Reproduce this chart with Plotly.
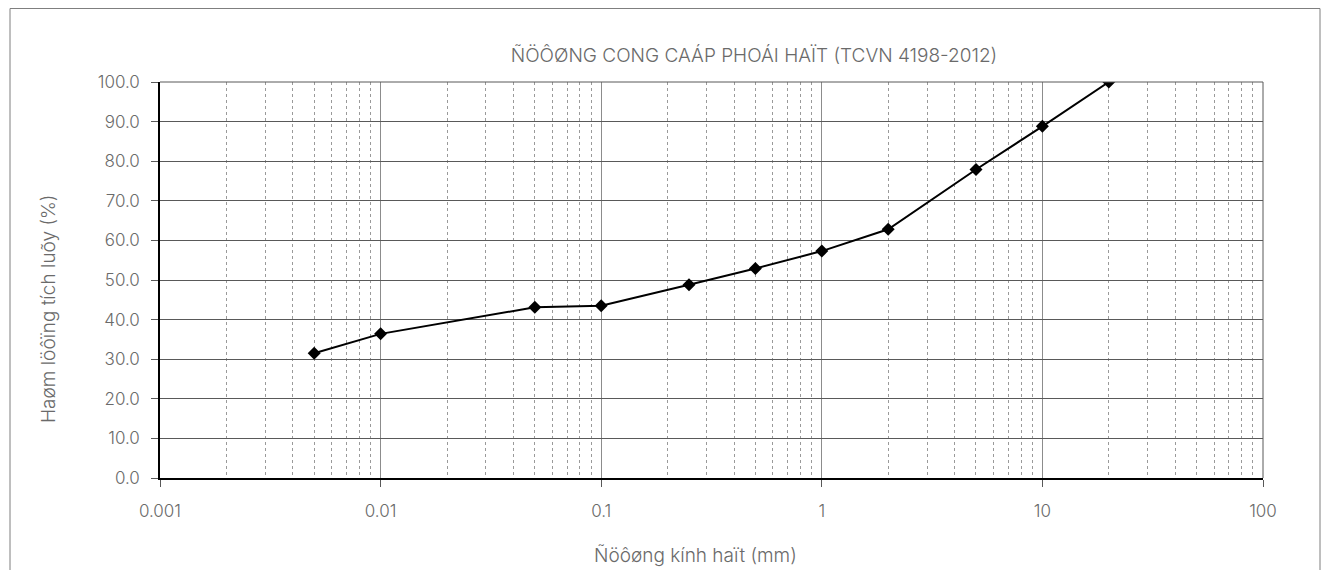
import plotly.graph_objects as go

sizes_mm = [0.005, 0.01, 0.05, 0.1, 0.25, 0.5, 1, 2, 5, 10, 20]
passing_pct = [31.5, 36.4, 43.1, 43.5, 48.8, 52.9, 57.3, 62.8, 77.9, 88.8, 100.0]
x_tick_vals = [0.001, 0.01, 0.1, 1, 10, 100]
x_tick_text = ["0.001", "0.01", "0.1", "1", "10", "100"]
minor_steps = [2, 3, 4, 5, 6, 7, 8, 9]
title_text = "ÑÖÔØNG CONG CAÁP PHOÁI HAÏT (TCVN 4198-2012)"
x_title = "Ñöôøng kính haït (mm)"
y_title = "Haøm löôïng tích luõy (%)"

minor_vals = [d * s for d in x_tick_vals[:-1] for s in minor_steps]

FONT = "Inter, Open Sans, DejaVu Sans, sans-serif"
TXT = "#6a6a6a"
WT = 300

fig = go.Figure()
fig.add_trace(go.Scatter(
    x=sizes_mm, y=passing_pct, mode="lines+markers",
    line=dict(color="black", width=2),
    marker=dict(symbol="diamond", size=10, color="black"),
    showlegend=False,
))

# page has an 8px body margin; reference coordinates shifted accordingly
W, H = 1313, 562
L, T = 152, 74
R = W - 1255
B = H - 470
pw, ph = W - L - R, H - T - B

fig.update_layout(
    width=W, height=H,
    margin=dict(l=L, r=R, t=T, b=B),
    paper_bgcolor="white", plot_bgcolor="white",
    font=dict(family=FONT, color=TXT, size=16, weight=WT),
    title=dict(text=title_text, x=746 / W, xanchor="center",
               y=1 - 47 / H, yanchor="middle",
               font=dict(size=19, color=TXT, family=FONT, weight=WT)),
    xaxis=dict(
        type="log", range=[-3, 2],
        tickvals=x_tick_vals, ticktext=x_tick_text,
        showgrid=True, gridcolor="#8c8c8c", gridwidth=1,
        minor=dict(tickmode="array", tickvals=minor_vals, showgrid=True,
                   gridcolor="#9a9a9a", griddash="dot", gridwidth=1, ticks=""),
        ticks="outside", ticklen=7, tickcolor="#595959",
        ticklabelstandoff=10,
        showline=True, linecolor="black", linewidth=1.5, mirror=False,
        tickfont=dict(size=17, color=TXT, family=FONT, weight=WT),
        zeroline=False,
    ),
    yaxis=dict(
        range=[0, 100], dtick=10, tickformat=".1f",
        showgrid=True, gridcolor="#595959", gridwidth=1,
        ticks="outside", ticklen=7, tickcolor="#595959",
        ticklabelstandoff=8,
        showline=True, linecolor="black", linewidth=1.5,
        tickfont=dict(size=17, color=TXT, family=FONT, weight=WT),
        zeroline=False,
    ),
)

# axis titles placed as in the reference
fig.add_annotation(text=x_title, xref="paper", yref="paper",
                   x=(687 - L) / pw, y=-(547 - (T + ph)) / ph,
                   xanchor="center", yanchor="middle", showarrow=False,
                   font=dict(size=19, color=TXT, family=FONT, weight=WT))
fig.add_annotation(text=y_title, xref="paper", yref="paper",
                   x=(40 - L) / pw, y=1 - (301 - T) / ph, textangle=-90,
                   xanchor="center", yanchor="middle", showarrow=False,
                   font=dict(size=19, color=TXT, family=FONT, weight=WT))

fig.add_shape(type="line", xref="paper", yref="paper", x0=1, x1=1, y0=0, y1=1,
              line=dict(color="#595959", width=1))
fig.add_shape(type="line", xref="paper", yref="paper", x0=0, x1=1, y0=1, y1=1,
              line=dict(color="#595959", width=1))

# outer chart frame
fig.add_shape(type="rect", xref="paper", yref="paper",
              x0=(2 - L) / pw, x1=(1312 - L) / pw,
              y0=-(600 - (T + ph)) / ph,
              y1=(T + ph - 0.5) / ph,
              line=dict(color="#7f7f7f", width=1), fillcolor="rgba(0,0,0,0)")

fig.write_html("out.html")
